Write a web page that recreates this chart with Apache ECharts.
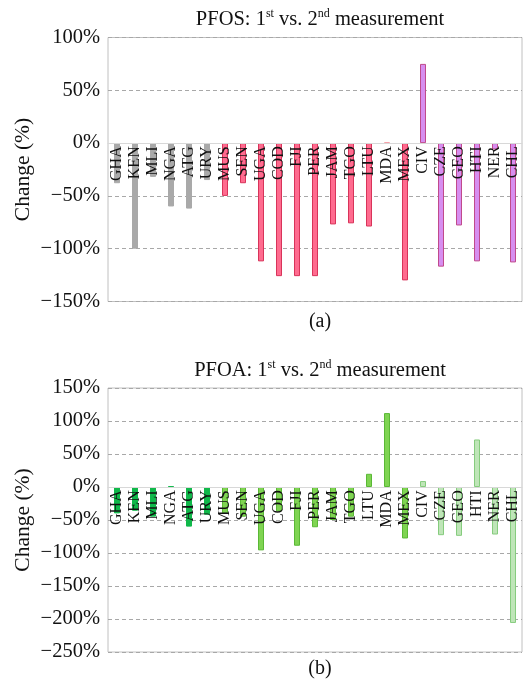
<!DOCTYPE html>
<html>
<head>
<meta charset="utf-8">
<script src="https://cdn.jsdelivr.net/npm/echarts@6/dist/echarts.min.js"></script>
<style>html,body{margin:0;padding:0;background:#fff}#c{width:524px;height:680px}</style>
</head>
<body>
<div id="c"></div>
<script>
const categories = ['GHA','KEN','MLI','NGA','ATG','URY','MUS','SEN','UGA','COD','FJI','PER','JAM','TGO','LTU','MDA','MEX','CIV','CZE','GEO','HTI','NER','CHL'];
const pfosValues = [-38,-100,-32,-60,-62,-35,-50,-38,-112,-126,-126,-126,-77,-76,-79,1,-130,75,-117,-78,-112,-6,-113];
const pfosGroups = [0,0,0,0,0,0,1,1,1,1,1,1,1,1,1,1,1,2,2,2,2,2,2];
const pfoaValues = [-40,-36,-45,1,-60,-42,-40,-45,-96,-37,-89,-61,-50,-45,20,112,-78,9,-73,-74,72,-72,-206];
const pfoaGroups = [0,0,0,0,0,0,1,1,1,1,1,1,1,1,1,1,1,2,2,2,2,2,2];
const pfosTicks = {min:-150, max:100, interval:50};
const pfoaTicks = {min:-250, max:150, interval:50};

const FONT = 'Liberation Serif';
const pfosStyles = [
  {color:'#a9a9a9', borderColor:'#a9a9a9'},
  {color:'#ff6b8f', borderColor:'#d8345a'},
  {color:'#d78ef0', borderColor:'#c04a8c'}
];
const pfoaStyles = [
  {color:'#10b84a', borderColor:'#10b84a'},
  {color:'#7fd452', borderColor:'#5ab836'},
  {color:'#bfe5b8', borderColor:'#86cc7e'}
];
const pfosMdaStyle = {color:'#f7a0a8', borderColor:'#f7a0a8'};

function pct(v){ return (v<0 ? '\u2212' + Math.abs(v) : v) + '%'; }

function buildData(vals, groups, styles){
  return vals.map((v,i)=>({value:v, itemStyle:Object.assign({borderWidth:1}, styles[groups[i]])}));
}
const pfosData = buildData(pfosValues, pfosGroups, pfosStyles);
pfosData[15].itemStyle = Object.assign({borderWidth:1}, pfosMdaStyle);
const pfoaData = buildData(pfoaValues, pfoaGroups, pfoaStyles);

const grids = [
  {left:108, right:2, top:37.5, height:264, show:true, borderColor:'#c0c0c0', borderWidth:1},
  {left:108, right:2, top:388, height:264, show:true, borderColor:'#c0c0c0', borderWidth:1}
];
function xAx(idx, off){
  return {type:'category', gridIndex:idx, data:categories, offset:off, z:10,
    axisLine:{onZero:false, lineStyle:{color:'#d8d8d8', width:1}},
    axisTick:{show:false},
    axisLabel:{rotate:90, interval:0, margin:3, color:'#111', fontFamily:FONT, fontSize:16},
    splitLine:{show:false}};
}
function yAx(idx, t){
  return {type:'value', gridIndex:idx, min:t.min, max:t.max, interval:t.interval,
    name:'Change (%)', nameLocation:'middle', nameGap:74, nameRotate:90, nameMoveOverlap:false,
    nameTextStyle:{fontFamily:FONT, fontSize:21.5, color:'#111'},
    axisLine:{show:false}, axisTick:{show:false},
    axisLabel:{formatter:pct, color:'#111', fontFamily:FONT, fontSize:20.5, margin:8},
    splitLine:{show:true, lineStyle:{type:[4,3], color:'#a8a8a8', width:1}}};
}
const rich = {
  a:{fontFamily:FONT, fontSize:20.5, fontWeight:'normal', color:'#111', lineHeight:24},
  s:{fontFamily:FONT, fontSize:12, fontWeight:'normal', color:'#111', lineHeight:24, verticalAlign:'top', padding:[0,0,9,0]}
};
function titleText(name){ return '{a|'+name+': 1}{s|st}{a| vs. 2}{s|nd}{a| measurement}'; }

const chart = echarts.init(document.getElementById('c'));
chart.setOption({
  animation:false,
  backgroundColor:'#fff',
  title:[
    {text:titleText('PFOS'), left:315, top:3, textAlign:'center', textStyle:{fontWeight:'normal', rich:rich}},
    {text:titleText('PFOA'), left:315, top:354, textAlign:'center', textStyle:{fontWeight:'normal', rich:rich}},
    {text:'(a)', left:315, top:307, textAlign:'center', textStyle:{fontFamily:FONT, fontSize:20, fontWeight:'normal', color:'#111'}},
    {text:'(b)', left:315, top:654, textAlign:'center', textStyle:{fontFamily:FONT, fontSize:20, fontWeight:'normal', color:'#111'}}
  ],
  grid:grids,
  xAxis:[xAx(0, -158.2), xAx(1, -164.7)],
  yAxis:[yAx(0, pfosTicks), yAx(1, pfoaTicks)],
  series:[
    {type:'bar', xAxisIndex:0, yAxisIndex:0, data:pfosData, barWidth:6, z:1},
    {type:'bar', xAxisIndex:1, yAxisIndex:1, data:pfoaData, barWidth:6, z:1}
  ]
});
</script>
</body>
</html>
